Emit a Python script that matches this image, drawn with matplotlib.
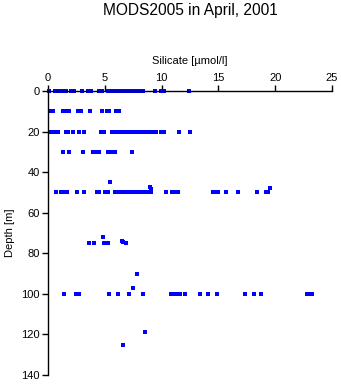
"""Silicate vs depth scatter, MODS2005 cruise, April 2001."""

import matplotlib

matplotlib.use("Agg")
import matplotlib.pyplot as plt

# silicate [umol/l] per nominal sampling depth
si_0m = [0.05, 0.62, 0.88, 1.14, 1.41, 1.58, 2.02, 2.29, 2.95, 3.52, 3.79,
         4.49, 4.75, 5.24, 5.55, 5.81, 6.07, 6.34, 6.51, 6.87, 7.13, 7.39,
         7.75, 8.01, 8.27, 8.4, 9.46, 9.95, 10.21, 12.37]
si_10m = [0.18, 0.44, 1.28, 1.67, 1.85, 2.64, 2.9, 3.74, 4.71, 5.19, 5.41,
          5.99, 6.21]
si_20m = [0.26, 0.53, 0.88, 1.58, 1.76, 2.2, 2.73, 3.17, 4.67, 4.97, 5.63,
          5.9, 6.16, 6.43, 6.69, 6.95, 7.22, 7.48, 7.75, 8.01, 8.27, 8.54,
          8.8, 9.07, 9.33, 9.55, 9.95, 10.21, 11.49, 12.5]
si_30m = [1.32, 1.85, 3.08, 3.96, 4.23, 4.49, 5.24, 5.63, 5.9, 7.35]
si_50m = [0.7, 1.14, 1.41, 1.67, 2.51, 3.21, 4.31, 4.53, 5.02, 5.28, 5.9,
          6.16, 6.43, 6.69, 7.04, 7.31, 7.57, 7.83, 8.1, 8.36, 8.63, 8.8,
          9.11, 10.39, 10.92, 11.18, 11.44, 14.52, 14.79, 14.96, 15.71,
          16.73, 18.44, 19.19, 19.37]
si_75m = [3.65, 4.09, 4.89, 5.28, 6.87]
si_100m = [1.41, 2.46, 2.73, 5.33, 6.12, 7.17, 8.4, 10.83, 11.09, 11.36,
           11.62, 12.06, 13.42, 14.08, 14.92, 17.3, 18.09, 18.79, 22.8,
           22.98, 23.28]

# samples that sit off the standard depths
odd_silicate = [5.5, 9.0, 9.1, 19.5, 4.84, 6.47, 6.6, 7.79, 7.5, 8.5, 6.6]
odd_depth = [45, 47.3, 48.2, 47.8, 72, 73.8, 74.6, 90, 97, 119, 125]

x_ticks = [0, 5, 10, 15, 20, 25]
y_ticks = [0, 20, 40, 60, 80, 100, 120, 140]


def main() -> None:
    plt.rcParams["font.family"] = ["Liberation Sans", "DejaVu Sans"]

    silicate = []
    depth = []
    for level, values in [(0, si_0m), (10, si_10m), (20, si_20m), (30, si_30m),
                          (50, si_50m), (75, si_75m), (100, si_100m)]:
        silicate += values
        depth += [level] * len(values)
    silicate += odd_silicate
    depth += odd_depth

    fig = plt.figure(figsize=(3.41, 3.84), dpi=100)
    ax = fig.add_axes([0.1408, 0.0234, 0.8328, 0.7396])
    ax.plot(silicate, depth, linestyle="none", marker="s", markersize=2.2,
            markeredgewidth=0, color="#0000FF", clip_on=False)

    ax.set_xlim(0, 25)
    ax.set_ylim(140, 0)
    ax.set_xticks(x_ticks)
    ax.set_yticks(y_ticks)
    ax.xaxis.tick_top()
    ax.xaxis.set_label_position("top")
    for side in ("right", "bottom"):
        ax.spines[side].set_visible(False)
    for side in ("left", "top"):
        ax.spines[side].set_linewidth(1.0)
    ax.tick_params(direction="out", length=4, width=1.0, labelsize=8, pad=2)

    ax.set_xlabel("Silicate [\u00b5mol/l]", fontsize=8, labelpad=6)
    ax.set_ylabel("Depth [m]", fontsize=8, labelpad=4)
    # title is centred over the plotting area, not the whole figure
    ax.set_title("MODS2005 in April, 2001", fontsize=11.2, pad=54.5)

    fig.savefig("out.png", dpi=100)
    plt.close(fig)


if __name__ == "__main__":
    main()
